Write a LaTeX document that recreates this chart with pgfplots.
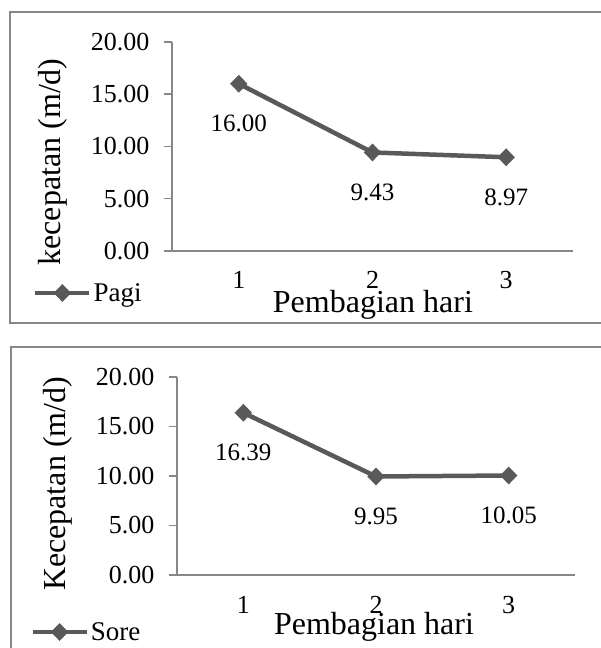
\documentclass[border=0pt]{standalone}
\usepackage{fontspec}
\setmainfont{Liberation Serif}
\usepackage{pgfplots}
\pgfplotsset{compat=1.18}
\definecolor{ln}{HTML}{595959}
\definecolor{ax}{HTML}{878787}
\pgfplotsset{
  mystyle/.style={
    scale only axis, anchor=south west,
    xmin=0.5, xmax=3.5, ymin=0, ymax=20,
    xtick={1,2,3}, xticklabels={1,2,3},
    ytick={0,5,10,15,20},
    axis x line*=bottom, axis y line*=left,
    ytick pos=left, xtick pos=bottom,
    axis line style={ax, line width=1.5bp},
    tick align=outside, major tick length=8bp,
    y tick style={ax, line width=1.5bp},
    x tick style={draw=none},
    /pgf/number format/.cd, fixed, fixed zerofill, precision=2, assume math mode=true,
    /pgfplots/.cd,
    yticklabel style={font=\fontsize{26bp}{30bp}\selectfont, text=black, xshift=-11bp},
    xticklabel style={font=\fontsize{26bp}{30bp}\selectfont, text=black, anchor=base, yshift=-30bp, inner sep=0pt},
    label style={font=\fontsize{32bp}{36bp}\selectfont},
    nodes near coords,
    nodes near coords style={font=\fontsize{25bp}{30bp}\selectfont, anchor=center, yshift=-40bp, text=black},
    legend style={draw=none, fill=none, font=\fontsize{27bp}{30bp}\selectfont, inner sep=0pt, anchor=west},
    legend image code/.code={\draw[mark repeat=2,mark phase=2,##1] plot coordinates {(0bp,0bp) (27bp,0bp) (54bp,0bp)};},
  },
  myline/.style={ln, line width=4.5bp, mark=diamond*, mark size=8.5bp,
    mark options={solid, fill=ln, draw=ln, line width=0.5bp, xscale=1.3}},
}
\begin{document}
\begin{tikzpicture}
\useasboundingbox (0bp,0bp) rectangle (601bp,648bp);
\draw[ax, line width=1.5bp] (602bp,636bp) -- (10bp,636bp) -- (10bp,325bp) -- (602bp,325bp);
\draw[ax, line width=1.5bp] (602bp,301bp) -- (11bp,301bp) -- (11bp,-5bp);
\begin{axis}[mystyle, at={(172bp,397bp)}, width=401bp, height=209bp,
  ylabel={kecepatan (m/d)}, xlabel={Pembagian hari},
  ylabel style={at={(axis description cs:-0.297,0.426)}, anchor=center},
  xlabel style={at={(axis description cs:0.501,-0.292)}, anchor=base},
  legend style={at={(axis description cs:-0.347,-0.201)}}]
\addplot[myline] coordinates {(1,16.00) (2,9.43) (3,8.97)};
\addlegendentry{Pagi}
\end{axis}
\begin{axis}[mystyle, at={(177bp,73bp)}, width=398bp, height=198bp,
  ylabel={Kecepatan (m/d)}, xlabel={Pembagian hari},
  ylabel style={at={(axis description cs:-0.30,0.46)}, anchor=center},
  xlabel style={at={(axis description cs:0.495,-0.303)}, anchor=base},
  legend style={at={(axis description cs:-0.369,-0.288)}}]
\addplot[myline] coordinates {(1,16.39) (2,9.95) (3,10.05)};
\addlegendentry{Sore}
\end{axis}
\end{tikzpicture}
\end{document}
